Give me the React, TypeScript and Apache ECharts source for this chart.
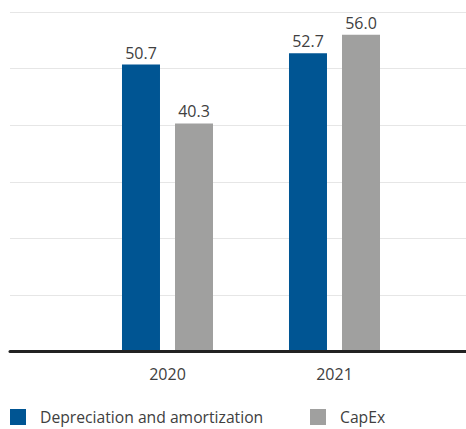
import React, { useEffect, useRef } from "react";
import * as echarts from "echarts";

const years = ["2020", "2021"];
const depreciation = [50.7, 52.7];
const capex = [40.3, 56.0];
const seriesNames = ["Depreciation and amortization", "CapEx"];

const FONT = "'Open Sans', 'Noto Sans', sans-serif";
const TEXT = "#404040";
const BLUE = "#005593";
const GRAY = "#a0a09f";

export default function App() {
  const ref = useRef<HTMLDivElement>(null);

  useEffect(() => {
    if (!ref.current) return;
    const chart = echarts.init(ref.current, undefined, { renderer: "svg" });

    const label = {
      show: true,
      position: "top" as const,
      distance: 4,
      fontFamily: FONT,
      fontSize: 16,
      color: TEXT,
      formatter: (p: any) => Number(p.value).toFixed(1),
    };

    const legendText = {
      fontFamily: FONT,
      fontSize: 15.7,
      lineHeight: 16,
      color: TEXT,
      padding: [0, 0, 0, 9],
    };

    chart.setOption({
      animation: false,
      backgroundColor: "#ffffff",
      grid: [
        { left: 10, right: 0, top: 12, bottom: 77.5 },
        { left: 84, width: 334, top: 12, bottom: 77.5 },
      ],
      xAxis: [
        {
          gridIndex: 0,
          type: "category",
          data: [""],
          z: 5,
          axisLine: { show: true, lineStyle: { color: "#222222", width: 3 } },
          axisTick: { show: false },
          axisLabel: { show: false },
          splitLine: { show: false },
        },
        {
          gridIndex: 1,
          type: "category",
          data: years,
          axisLine: { show: false },
          axisTick: { show: false },
          axisLabel: {
            margin: 14,
            fontFamily: FONT,
            fontSize: 16,
            color: TEXT,
          },
        },
      ],
      yAxis: [
        {
          gridIndex: 0,
          type: "value",
          min: 0,
          max: 60,
          interval: 10,
          axisLine: { show: false },
          axisTick: { show: false },
          axisLabel: { show: false },
          splitLine: { show: true, lineStyle: { color: "#e6e6e6", width: 1 } },
        },
        {
          gridIndex: 1,
          type: "value",
          min: 0,
          max: 60,
          interval: 10,
          show: false,
          splitLine: { show: false },
        },
      ],
      legend: [
        {
          left: 10,
          top: 409,
          padding: 0,
          itemWidth: 16,
          itemHeight: 16,
          icon: "rect",
          data: [seriesNames[0]],
          textStyle: legendText,
        },
        {
          left: 310,
          top: 409,
          padding: 0,
          itemWidth: 16,
          itemHeight: 16,
          icon: "rect",
          data: [seriesNames[1]],
          textStyle: legendText,
        },
      ],
      series: [
        {
          name: seriesNames[0],
          type: "bar",
          xAxisIndex: 1,
          yAxisIndex: 1,
          data: depreciation,
          barWidth: 38,
          barGap: "39.5%",
          itemStyle: { color: BLUE },
          label,
        },
        {
          name: seriesNames[1],
          type: "bar",
          xAxisIndex: 1,
          yAxisIndex: 1,
          data: capex,
          barWidth: 38,
          barGap: "39.5%",
          itemStyle: { color: GRAY },
          label,
        },
      ],
    });

    return () => chart.dispose();
  }, []);

  return (
    <div
      ref={ref}
      style={{ position: "fixed", left: 0, top: 0, width: 466, height: 429 }}
    />
  );
}
